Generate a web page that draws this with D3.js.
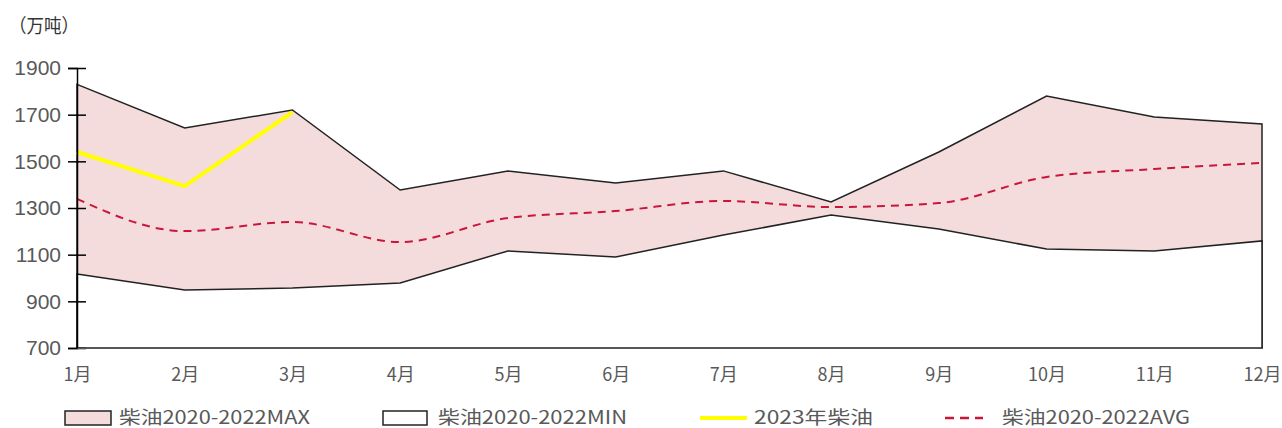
<!DOCTYPE html>
<html><head><meta charset="utf-8">
<script src="https://cdn.jsdelivr.net/npm/d3@7"></script>
<style>body{margin:0;background:#fff;} svg{display:block;}</style>
</head><body>
<svg id="c" width="1282" height="428"></svg>
<script>
const months = ["1月","2月","3月","4月","5月","6月","7月","8月","9月","10月","11月","12月"];
const maxVals = [1830,1643,1720,1377,1459,1407,1459,1326,1540,1780,1690,1660];
const minVals = [1017,949,957,979,1116,1090,1184,1270,1210,1124,1116,1159];
const avgVals = [1339,1201,1240,1154,1257,1287,1330,1304,1321,1433,1467,1493];
const y2023 = [1540,1394,1711];
const yTicks = [700,900,1100,1300,1500,1700,1900];
const legendLabels = ["柴油2020-2022MAX","柴油2020-2022MIN","2023年柴油","柴油2020-2022AVG"];
const yTitle = "（万吨）";

const svg = d3.select("#c");
const x = d3.scalePoint().domain(months).range([77, 1262]);
const y = d3.scaleLinear().domain([700,1900]).range([348, 68]);
const cjk = "'Noto Sans CJK SC','Noto Sans',sans-serif";

const maxData = months.map((m,i)=>({m, v:maxVals[i]}));
const minData = months.map((m,i)=>({m, v:minVals[i]}));
const avgData = months.map((m,i)=>({m, v:avgVals[i]}));
const d2023 = y2023.map((v,i)=>({m:months[i], v}));

const area = d3.area().x(d=>x(d.m)).y0(y(700)).y1(d=>y(d.v));
svg.append("path").datum(maxData).attr("d", area)
  .attr("fill","#f5dcdc").attr("stroke","#222").attr("stroke-width",1.5);
svg.append("path").datum(minData).attr("d", area)
  .attr("fill","#ffffff").attr("stroke","#222").attr("stroke-width",1.5);

const line = d3.line().x(d=>x(d.m)).y(d=>y(d.v));
svg.append("path").datum(avgData).attr("d", line.curve(d3.curveMonotoneX))
  .attr("fill","none").attr("stroke","#c8173a").attr("stroke-width",2)
  .attr("stroke-dasharray","8,6");
svg.append("path").datum(d2023).attr("d", d3.line().x(d=>x(d.m)).y(d=>y(d.v)))
  .attr("fill","none").attr("stroke","#ffff00").attr("stroke-width",4);

// y axis
const ya = svg.append("g").attr("transform","translate(77,0)")
  .call(d3.axisLeft(y).tickValues(yTicks).tickSize(9).tickPadding(7).tickFormat(d3.format("d")));
ya.select(".domain").attr("stroke","#000").attr("stroke-width",1.5);
ya.selectAll(".tick line").attr("x1",9).attr("stroke","#000").attr("stroke-width",1.5);
ya.selectAll(".tick text").attr("font-family","'Liberation Sans',Arial,sans-serif")
  .attr("font-size",21).attr("fill","#595959");

// x axis
const xa = svg.append("g").attr("transform","translate(0,348)")
  .call(d3.axisBottom(x).tickSize(0).tickPadding(20));
xa.select(".domain").attr("stroke","#555").attr("stroke-width",1.2);
xa.selectAll(".tick text").attr("font-family",cjk).attr("font-size",18).attr("fill","#595959");

// y title
svg.append("text").attr("x",9).attr("y",33).text(yTitle)
  .attr("font-family",cjk).attr("font-size",19).attr("fill","#333")
  .attr("textLength",70).attr("lengthAdjust","spacingAndGlyphs");

// legend
const lg = svg.append("g").attr("font-family",cjk).attr("font-size",18).attr("fill","#595959");
const lx = [65, 383, 700, 945];
const tx = [119, 438, 754, 1002];
const tw = [191, 189, 119, 188];
lg.append("rect").attr("x",lx[0]).attr("y",411).attr("width",46).attr("height",14)
  .attr("fill","#f5dcdc").attr("stroke","#222").attr("stroke-width",1.5);
lg.append("rect").attr("x",lx[1]).attr("y",411).attr("width",44).attr("height",14)
  .attr("fill","#fff").attr("stroke","#222").attr("stroke-width",1.5);
lg.append("line").attr("x1",lx[2]).attr("x2",lx[2]+47).attr("y1",418).attr("y2",418)
  .attr("stroke","#ffff00").attr("stroke-width",4);
lg.append("line").attr("x1",lx[3]).attr("x2",lx[3]+38).attr("y1",418).attr("y2",418)
  .attr("stroke","#c8173a").attr("stroke-width",2.5).attr("stroke-dasharray","9,6");
legendLabels.forEach((t,i)=>{
  lg.append("text").attr("x",tx[i]).attr("y",424).text(t)
    .attr("textLength",tw[i]).attr("lengthAdjust","spacingAndGlyphs");
});
</script>
</body></html>
